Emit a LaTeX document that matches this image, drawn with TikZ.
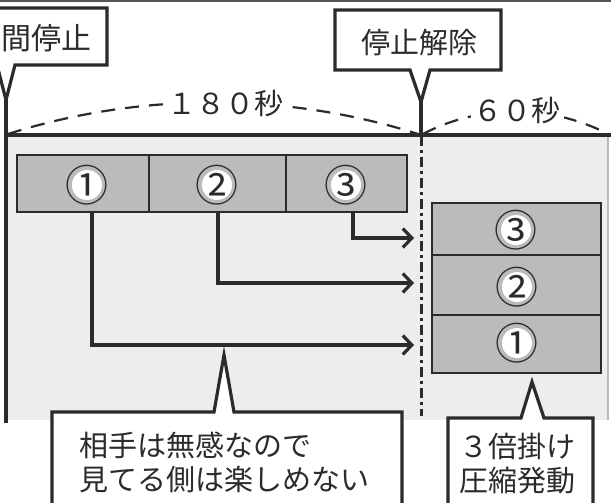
\documentclass[tikz,border=0pt]{standalone}
\usepackage{fontspec}
\newfontfamily\cjk{Noto Sans CJK JP}
\usetikzlibrary{arrows.meta}
\definecolor{ink}{HTML}{2B2B2B}
\definecolor{bgshade}{HTML}{EDEDED}
\definecolor{bar}{HTML}{BBBBBB}
\begin{document}
\begin{tikzpicture}[x=1pt,y=-1pt,line join=miter,
  ln/.style={draw=ink,line width=3.2pt},
  cellbox/.style={draw=ink,line width=2.8pt,fill=bar,inner sep=0pt},
  lbl/.style={font=\cjk\fontsize{29}{34}\selectfont,text=ink,inner sep=0pt},
  num/.style={font=\cjk\fontsize{43}{43}\selectfont,text=ink,inner sep=0pt},
  conn/.style={draw=ink,line width=3.2pt,-{Straight Barb[length=9pt,width=19pt,line width=3.2pt]}},
  dim/.style={draw=ink,line width=2.2pt,dash pattern=on 14pt off 10pt},
  callout/.style={draw=ink,line width=3.2pt,fill=white},
  dashdot/.style={draw=ink,line width=3pt,dash pattern=on 10pt off 4pt on 3pt off 4pt},
]
\useasboundingbox (0,0) rectangle (611,503);
\clip (0,0) rectangle (611,503);
\fill[white] (0,0) rectangle (611,503);
% shaded area
\fill[bgshade] (6,136) rectangle (608,420);
% top border
\draw[draw=ink!80,line width=2.5pt] (0,0.5) -- (611,0.5);
% right light line
\draw[draw=gray!55,line width=1.5pt] (608,136) -- (608,420);
% vertical lines
\draw[ln] (6,98) -- (6,423);
\draw[ln] (421,100) -- (421,136);
\draw[dashdot] (421,136) -- (421,416);
% main line
\draw[ln] (6,135) -- (611,135);

% dimension arcs
\draw[dim] (8,134) .. controls (140,92) and (286,92) .. (418,134);
\node[lbl,fill=white,inner sep=4pt] (d1) at (225,103) {１８０秒};
\draw[dim] (423,134) .. controls (480,104) and (550,104) .. (608,134);
\node[lbl,fill=white,inner sep=3pt] (d2) at (517,110) {６０秒};

% top callouts
\draw[callout] (-10,8) -- (107,8) -- (107,65) -- (15,65) -- (6,100) -- (-3,65) -- (-10,65);
\node[lbl,anchor=east,font=\cjk\fontsize{30}{34}\selectfont] (c0) at (92,38) {間停止};
\draw[callout] (335,10) -- (501,10) -- (501,70) -- (430,70) -- (421,102) -- (410,70) -- (335,70) -- cycle;
\node[lbl] (c1) at (419,42) {停止解除};

% bar
\node[cellbox,minimum width=132pt,minimum height=57pt] (s1) at (83,183.5) {};
\node[cellbox,minimum width=137pt,minimum height=57pt] (s2) at (217.5,183.5) {};
\node[cellbox,minimum width=121pt,minimum height=57pt] (s3) at (346.5,183.5) {};
% stack
\node[cellbox,minimum width=169pt,minimum height=52pt] (r3) at (516.5,229) {};
\node[cellbox,minimum width=169pt,minimum height=60pt] (r2) at (516.5,285) {};
\node[cellbox,minimum width=169pt,minimum height=58pt] (r1) at (516.5,344) {};

% circled numbers
\foreach \p/\t/\n in {{(87,185)}/①/n1, {(217,185)}/②/n2, {(346,185)}/③/n3,
                       {(516,230)}/③/m3, {(517,287)}/②/m2, {(517,343)}/①/m1}{
  \fill[white] \p circle (15pt);
  \node[num] (\n) at \p {\t};
}

% arrow targets
\coordinate (a3) at (414,238);
\coordinate (a2) at (414,283);
\coordinate (a1) at (414,345);
\draw[conn] ([xshift=9pt]s1.south) |- (a1);
\draw[conn] ([xshift=0.5pt]s2.south) |- (a2);
\draw[conn] ([xshift=6.5pt]s3.south) |- (a3);

% bottom callouts
\draw[callout] (52,515) -- (52,412) -- (214,412) -- (224,355) -- (234,412) -- (402,412) -- (402,515);
\node[lbl,align=left,anchor=west] (b1) at (79,462) {相手は無感なので\\見てる側は楽しめない};
\draw[callout] (448,515) -- (448,418) -- (521,418) -- (532,382) -- (544,418) -- (593,418) -- (593,515);
\node[lbl,align=left,anchor=west] (b2) at (459,464) {３倍掛け\\圧縮発動};
\end{tikzpicture}
\end{document}
